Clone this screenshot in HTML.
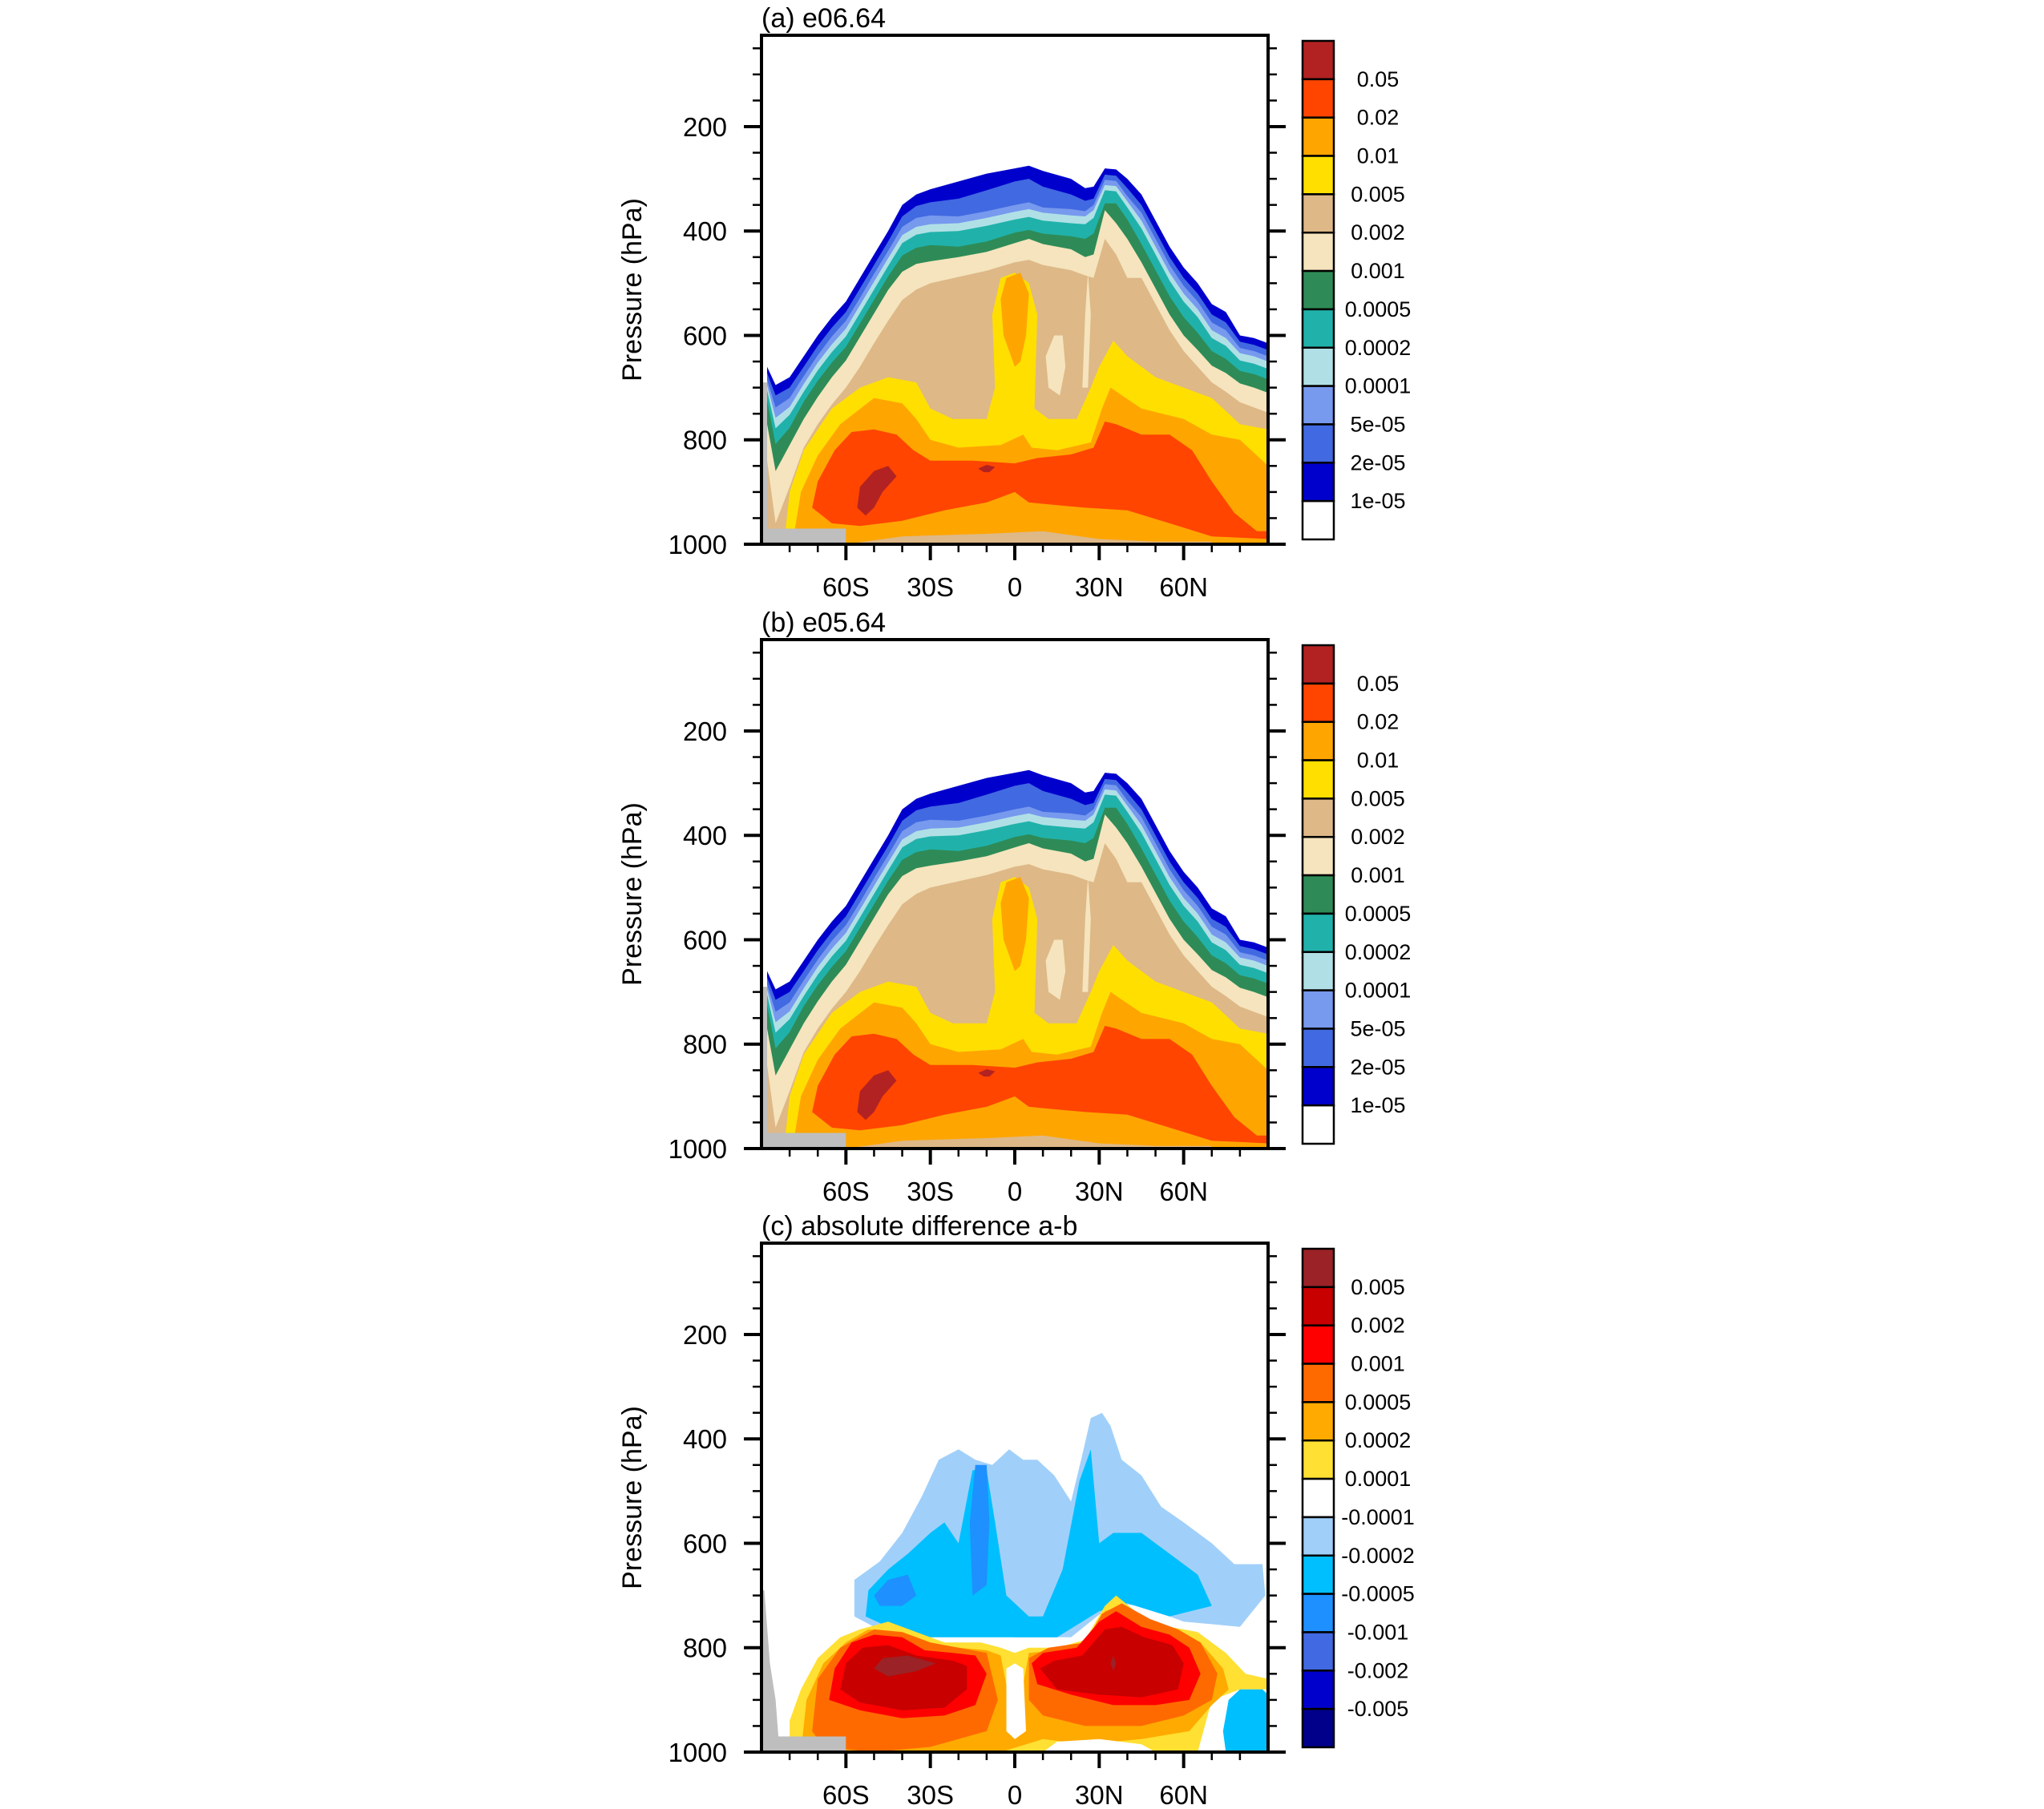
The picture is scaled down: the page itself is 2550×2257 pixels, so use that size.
<!DOCTYPE html>
<html><head><meta charset="utf-8"><style>
body{margin:0;background:#fff}
svg text{font-family:"Liberation Sans",sans-serif;fill:#000}
</style></head><body>
<svg id="fig" width="2550" height="2252" viewBox="0 0 2550 2252" xmlns="http://www.w3.org/2000/svg"></svg>
<script>
// ---------- data ----------
const lats = [-88,-85,-80,-75,-70,-65,-60,-55,-50,-45,-40,-35,-30,-20,-10,0,5,10,20,25,28,32,36,40,45,50,55,60,65,70,75,80,85,90];
const domeL1 = [660,695,680,640,600,565,535,490,445,400,350,330,320,305,290,280,275,285,300,318,315,280,282,300,330,380,430,470,500,540,555,600,605,615];
const domeL2 = [672,715,700,660,620,585,555,510,465,420,372,352,345,338,322,305,300,315,330,342,338,292,294,318,350,400,450,490,520,560,575,612,618,628];
const domeL3 = [685,738,720,678,638,602,572,528,482,438,392,375,370,372,362,350,345,355,358,362,350,302,304,333,365,415,465,505,535,575,590,624,630,640];
const domeL4 = [695,758,737,693,652,617,587,542,497,452,408,392,387,385,375,363,358,365,370,372,360,312,314,343,380,430,480,520,550,590,605,634,640,650];
const domeL5 = [705,778,752,708,667,632,602,557,512,467,423,407,402,400,390,378,373,380,385,387,375,322,324,355,395,445,495,535,565,605,620,648,654,664];
const domeL6 = [725,808,777,727,687,652,622,577,532,487,447,432,427,430,420,403,398,405,410,415,405,347,347,378,425,475,525,565,595,630,645,668,674,684];
const domeL7 = [770,860,810,760,718,680,648,603,558,513,478,463,458,450,440,423,415,425,435,450,445,360,385,415,460,510,560,600,628,658,672,692,700,710];
const domeL8 = [840,960,890,815,770,732,700,660,615,572,532,512,500,488,476,460,455,465,475,485,490,415,445,490,490,540,590,630,660,690,708,728,738,748];
const domeLevels = [domeL1,domeL2,domeL3,domeL4,domeL5,domeL6,domeL7,domeL8];
// blobs: [lat,p] polygons
const yellowA = [[-82,1000],[-80,900],[-75,820],[-65,740],[-55,700],[-45,680],[-35,690],[-30,740],[-22,760],[-10,760],[-7,700],[-8,560],[-5,490],[0,480],[5,500],[8,560],[7,740],[12,760],[22,760],[27,700],[30,660],[32,640],[35,610],[40,640],[50,680],[60,700],[70,720],[80,770],[90,780],[90,1000]];
const creamBlob = [[12,700],[11,640],[14,600],[17,600],[18,660],[16,715]];
const creamSliver = [[24,700],[25,560],[26,480],[27,560],[26,700]];
const orangeA = [[-79,1000],[-76,900],[-70,830],[-62,770],[-50,720],[-40,730],[-35,760],[-30,800],[-20,815],[-5,810],[3,790],[6,815],[15,820],[27,805],[31,740],[34,700],[45,740],[60,760],[70,790],[80,800],[90,850],[90,1000]];
const orangeEq = [[-4,600],[-5,530],[-3,490],[2,480],[5,520],[4,600],[2,650],[0,660]];
const redA = [[-72,930],[-70,880],[-64,820],[-58,785],[-50,780],[-42,790],[-36,820],[-30,840],[-15,840],[0,845],[8,835],[20,828],[28,815],[32,765],[36,770],[45,790],[55,790],[63,820],[70,880],[78,940],[86,975],[90,975],[90,990],[70,985],[55,960],[40,935],[25,930],[15,925],[5,920],[0,900],[-10,920],[-25,935],[-40,955],[-55,965],[-65,960]];
const darkRedA = [[-56,930],[-55,890],[-50,860],[-45,850],[-42,870],[-47,900],[-50,930],[-53,945]];
const darkRedA2 = [[-13,855],[-10,848],[-7,852],[-9,862],[-11,862]];
const tanBottom = [[-60,1000],[-40,985],[-10,980],[10,975],[30,990],[50,995],[70,995],[70,1000]];
const terrain = [[-90,1000],[-90,690],[-88,690],[-88,970],[-60,970],[-60,1000]];
// panel c
const cLightBlue = [[-57,740],[-57,670],[-48,635],[-40,580],[-33,510],[-27,440],[-20,420],[-14,440],[-8,450],[-2,420],[3,440],[8,440],[14,470],[20,520],[24,430],[27,360],[31,350],[34,375],[38,440],[45,470],[52,530],[60,560],[70,600],[78,640],[88,640],[89,700],[80,760],[60,750],[45,720],[35,715],[20,780],[0,780],[-20,770],[-35,770],[-50,760]];
const cCyan = [[-53,740],[-52,690],[-45,650],[-38,620],[-30,580],[-25,560],[-20,600],[-15,460],[-10,460],[-7,560],[-3,700],[5,740],[10,740],[17,650],[23,480],[27,420],[30,600],[35,580],[45,580],[55,620],[65,660],[70,720],[55,740],[40,715],[30,730],[15,780],[0,780],[-20,780],[-30,780],[-45,760]];
const cDodger = [[-50,700],[-45,670],[-38,660],[-35,700],[-40,720],[-48,720]];
const cDodger2 = [[-15,700],[-16,560],[-14,450],[-10,450],[-9,560],[-10,680]];
const cCyanR = [[76,900],[80,880],[88,880],[90,890],[90,1000],[75,1000],[74,960]];
const cYellow = [[-80,1000],[-80,940],[-76,880],[-70,820],[-62,780],[-55,765],[-45,750],[-35,770],[-25,790],[-12,790],[-5,800],[0,810],[5,800],[15,800],[25,785],[32,720],[36,700],[45,740],[55,760],[65,770],[75,810],[82,850],[90,860],[90,880],[80,880],[70,900],[65,1000]];
const cOrange = [[-76,1000],[-74,900],[-68,830],[-60,790],[-52,765],[-42,770],[-32,790],[-20,800],[-10,805],[-5,815],[-2,900],[2,900],[5,810],[15,805],[25,790],[32,730],[38,720],[48,750],[58,770],[66,790],[74,840],[76,880],[70,910],[62,960],[45,975],[25,985],[10,975],[-5,1000]];
const cDarkOrangeL = [[-72,960],[-70,860],[-62,800],[-50,765],[-40,770],[-30,790],[-20,800],[-10,810],[-6,900],[-10,960],[-30,990],[-50,1000],[-68,990]];
const cDarkOrangeR = [[5,820],[12,800],[25,790],[31,735],[38,715],[48,745],[58,765],[66,790],[72,850],[70,900],[60,930],[45,950],[25,950],[10,930],[5,900]];
const cWhiteGap = [[-3,840],[0,830],[3,840],[4,960],[0,975],[-3,960]];
const cWhiteBottom = [[10,1000],[15,980],[30,975],[45,985],[50,1000]];
const cRed = [[-66,900],[-64,840],[-58,790],[-50,775],[-40,780],[-32,805],[-22,810],[-14,815],[-10,850],[-14,910],[-25,930],[-40,935],[-55,920]];
const cRedR = [[6,830],[10,810],[22,800],[30,750],[36,730],[45,760],[55,775],[62,800],[66,850],[62,900],[50,910],[35,910],[20,890],[8,870]];
const cDark = [[-62,880],[-60,830],[-54,800],[-45,795],[-35,815],[-22,825],[-17,835],[-17,880],[-25,915],[-40,920],[-55,905]];
const cDarkR = [[9,840],[14,825],[24,815],[32,765],[38,760],[46,780],[56,795],[60,830],[58,880],[45,895],[30,890],[15,880]];
const cBrown = [[-50,840],[-47,820],[-38,815],[-28,830],[-35,845],[-45,855]];
const cBrown2 = [[34,830],[35,815],[36,830],[35,845]];
const cTerrain = [[-90,1000],[-90,690],[-89,690],[-88,760],[-87,830],[-85,900],[-84,970],[-60,970],[-60,1000]];

const colsA = ["#b22222","#ff4500","#ffa500","#ffdf00","#deb887","#f5e4bd","#2e8b57","#20b2aa","#b0e0e6","#7799ee","#4169e1","#0000cd","#ffffff"];
const labsA = ["0.05","0.02","0.01","0.005","0.002","0.001","0.0005","0.0002","0.0001","5e-05","2e-05","1e-05"];
const colsC = ["#9b2226","#c80000","#ff0000","#ff6a00","#ffaa00","#ffe033","#ffffff","#a0d0fa","#00bfff","#1e90ff","#4169e1","#0000cd","#00008b"];
const labsC = ["0.005","0.002","0.001","0.0005","0.0002","0.0001","-0.0001","-0.0002","-0.0005","-0.001","-0.002","-0.005"];
const yTicks = [200,400,600,800,1000];
const xTicks = [-60,-30,0,30,60];
const xTickLabels = ["60S","30S","0","30N","60N"];

// ---------- drawing ----------
const NS="http://www.w3.org/2000/svg";
const svg=document.getElementById('fig');
function mk(tag,attrs,parent){const e=document.createElementNS(NS,tag);for(const k in attrs)e.setAttribute(k,attrs[k]);(parent||svg).appendChild(e);return e;}
const X0=950,X1=1582,H=635;
function xs(lat){return X0+(lat+90)/180*(X1-X0);}
function ysF(y0){return p=>y0+(p-25)/975*H;}

function panel(id,y0,title,cols,labs,drawFn){
  const ys=ysF(y0);
  const g=mk('g',{});
  
  
  const cp=mk('clipPath',{id:'clip'+id},g);
  mk('rect',{x:X0,y:y0,width:X1-X0,height:H},cp);
  const f=mk('g',{'clip-path':'url(#clip'+id+')'},g);
  
  
  function poly(pts,fill,name){
    const e=mk('polygon',{points:pts.map(q=>xs(q[0]).toFixed(1)+','+ys(q[1]).toFixed(1)).join(' '),fill:fill},f);
    
    
  }
  drawFn(poly);
  const fr=mk('rect',{x:X0,y:y0,width:X1-X0,height:H,fill:'none',stroke:'#000','stroke-width':4},g);
  
  
  for(let p=50;p<=1000;p+=50){
    const major=yTicks.includes(p);const L=major?22:11;const y=ys(p);
    mk('line',{x1:X0-L,y1:y,x2:X0,y2:y,stroke:'#000','stroke-width':major?4:2.5},g);
    mk('line',{x1:X1,y1:y,x2:X1+L,y2:y,stroke:'#000','stroke-width':major?4:2.5},g);
  }
  yTicks.forEach(p=>{
    const t=mk('text',{x:907,y:ys(p)+12,'text-anchor':'end','font-size':33},g);t.textContent=p;
    
    
  });
  for(let la=-80;la<=80;la+=10){
    const major=xTicks.includes(la);
    mk('line',{x1:xs(la),y1:y0+H,x2:xs(la),y2:y0+H+(major?20:10),stroke:'#000','stroke-width':major?4:2.5},g);
  }
  xTicks.forEach((la,i)=>{
    const t=mk('text',{x:xs(la),y:y0+H+65,'text-anchor':'middle','font-size':33},g);t.textContent=xTickLabels[i];
    
    
  });
  const yt=mk('text',{x:0,y:0,'text-anchor':'middle','font-size':34,transform:'translate(800,'+(y0+H/2)+') rotate(-90)'},g);
  yt.textContent='Pressure (hPa)';
  
  
  const tt=mk('text',{x:950,y:y0-10,'font-size':34},g);tt.textContent=title;
  
  
  const cb=mk('g',{},g);
  
  
  const cbT=y0+7,cbB=y0+629,bh=(cbB-cbT)/cols.length;
  cols.forEach((c,i)=>{
    const r=mk('rect',{x:1625,y:cbT+i*bh,width:39,height:bh,fill:c,stroke:'#000','stroke-width':2.5},cb);
    
    
  });
  labs.forEach((l,i)=>{
    const t=mk('text',{x:1719,y:cbT+(i+1)*bh+9,'text-anchor':'middle','font-size':27},cb);t.textContent=l;
    
    
  });
}

function drawAB(poly){
  const domeCols=["#0000cd","#4169e1","#7799ee","#b0e0e6","#20b2aa","#2e8b57","#f5e4bd","#deb887"];
  domeLevels.forEach((lv,k)=>{
    const pts=lats.map((la,i)=>[la,lv[i]]);pts.push([90,1000],[-88,1000]);
    poly(pts,domeCols[k],'contour-level-'+(k+1));
  });
  poly(creamBlob,"#f5e4bd",'cream-blob');
  poly(creamSliver,"#f5e4bd",'cream-sliver');
  poly(yellowA,"#ffdf00",'yellow-region');
  poly(orangeA,"#ffa500",'orange-region');
  poly(orangeEq,"#ffa500",'orange-equator-blob');
  poly(redA,"#ff4500",'red-orange-region');
  poly(darkRedA,"#b22222",'dark-red-blob');
  poly(darkRedA2,"#b22222",'dark-red-blob-small');
  poly(tanBottom,"#deb887",'tan-surface-strip');
  poly(terrain,"#bebebe",'terrain-mask');
}
function drawC(poly){
  poly(cLightBlue,"#a0d0fa",'neg-0001-region');
  poly(cCyan,"#00bfff",'neg-0002-region');
  poly(cDodger,"#1e90ff",'neg-0005-blob');
  poly(cDodger2,"#1e90ff",'neg-0005-blob-2');
  poly(cYellow,"#ffe033",'pos-0001-region');
  poly(cOrange,"#ffaa00",'pos-0002-region');
  poly(cWhiteBottom,"#ffffff",'near-zero-surface');
  poly(cCyanR,"#00bfff",'neg-right-region');
  poly(cDarkOrangeL,"#ff6a00",'pos-0005-left');
  poly(cDarkOrangeR,"#ff6a00",'pos-0005-right');
  poly(cWhiteGap,"#ffffff",'near-zero-equator');
  poly(cRed,"#ff0000",'pos-001-left');
  poly(cRedR,"#ff0000",'pos-001-right');
  poly(cDark,"#c80000",'pos-002-left');
  poly(cDarkR,"#c80000",'pos-002-right');
  poly(cBrown,"#9b2226",'pos-005-left');
  poly(cBrown2,"#9b2226",'pos-005-right');
  poly(cTerrain,"#bebebe",'terrain-mask');
}
panel('a',44,'(a) e06.64',colsA,labsA,drawAB);
panel('b',798,'(b) e05.64',colsA,labsA,drawAB);
panel('c',1551,'(c) absolute difference a-b',colsC,labsC,drawC);
</script>
</body></html>
